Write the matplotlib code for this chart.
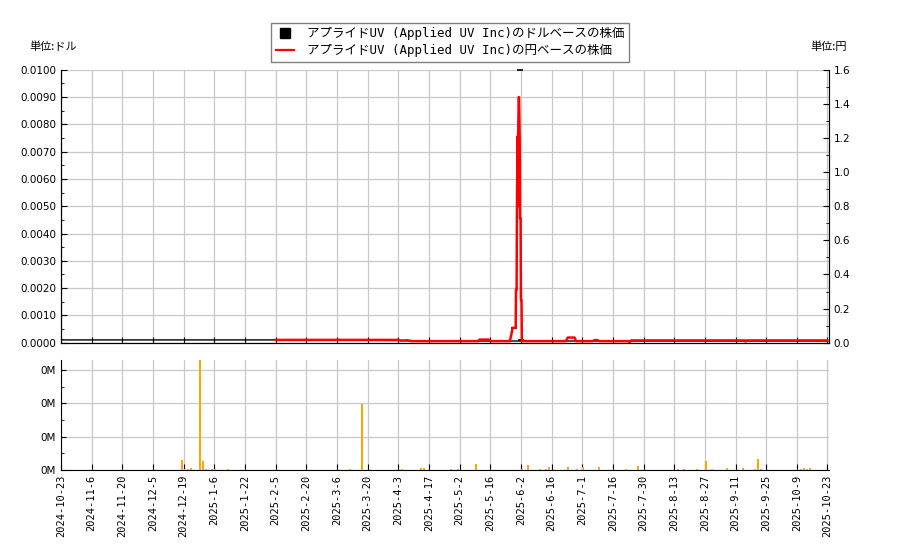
import matplotlib
matplotlib.use("Agg")
import matplotlib.pyplot as plt
from matplotlib.lines import Line2D
from matplotlib.ticker import MultipleLocator, FuncFormatter

plt.rcParams['font.family'] = ['DejaVu Sans', 'Noto Sans CJK JP']

# x axis is the trading-day index, labelled every 10 sessions
tick_pos = list(range(0, 251, 10))
tick_labels = ["2024-10-23", "2024-11-6", "2024-11-20", "2024-12-5", "2024-12-19",
               "2025-1-6", "2025-1-22", "2025-2-5", "2025-2-20", "2025-3-6",
               "2025-3-20", "2025-4-3", "2025-4-17", "2025-5-2", "2025-5-16",
               "2025-6-2", "2025-6-16", "2025-7-1", "2025-7-16", "2025-7-30",
               "2025-8-13", "2025-8-27", "2025-9-11", "2025-9-25", "2025-10-9",
               "2025-10-23"]

# dollar price (black), mostly hidden under the yen line
usd_x = [0, 70, 110, 115, 250]
usd_vals = [0.00010, 0.00010, 0.00008, 0.00006, 0.00006]
# short black marks visible around the spike
mark_x = [147.9, 149.6, 149.9]
mark_y = [0.00055, 0.0100, 0.0001]

# yen price (red)
yen_x = [70, 110, 111, 113, 114, 115, 136, 136.5, 139.5, 140, 146.4, 146.9, 147.3,
         148.3, 148.4, 148.6, 148.7, 148.9, 149.0, 149.1, 149.3, 149.4, 149.6,
         149.7, 149.9, 150.0, 150.2, 150.3, 164.7, 165.3, 167.5, 168, 173.5, 174,
         175, 175.5, 185, 185.5, 186, 223, 223.3, 223.6, 250]
yen_vals = [0.016, 0.016, 0.012, 0.014, 0.010, 0.009, 0.009, 0.018, 0.018, 0.009,
            0.009, 0.05, 0.087, 0.087, 0.31, 0.31, 0.76, 1.21, 0.80, 1.21, 1.44,
            1.44, 1.20, 0.73, 0.73, 0.25, 0.25, 0.009, 0.009, 0.030, 0.030, 0.009,
            0.009, 0.015, 0.015, 0.009, 0.009, 0.003, 0.013, 0.013, 0.006, 0.013,
            0.013]

# volume (shares)
vol_idx = [39, 40, 41, 42, 45, 46, 47, 49, 50, 54, 94, 98, 111, 117, 118, 127, 129,
           135, 150, 152, 156, 158, 159, 165, 168, 170, 175, 184, 188, 201, 203,
           207, 210, 212, 217, 222, 226, 227, 228, 241, 242, 243, 244]
vol_vals = [30000, 3000, 3000, 6000, 350000, 27000, 4000, 4000, 4000, 4000, 3000,
            197000, 3000, 6000, 6000, 3000, 3000, 18000, 3000, 15000, 3000, 3000,
            9000, 9000, 3000, 9000, 9000, 3000, 12000, 3000, 3000, 3000, 27000,
            3000, 6000, 6000, 3000, 33000, 3000, 3000, 6000, 3000, 6000]

fig = plt.figure(figsize=(9, 5.5), dpi=100)
ax = fig.add_axes([0.0678, 0.377, 0.853, 0.496])
ax2 = ax.twinx()
axv = fig.add_axes([0.0678, 0.1455, 0.853, 0.2])

grid_c = '#c8c8c8'
xmax = 250.4

# price panel
ax.plot(usd_x, usd_vals, color='black', lw=1, zorder=2)
ax.plot(mark_x, mark_y, linestyle='None', marker='_', color='black',
        markersize=5, markeredgewidth=1.2, clip_on=False, zorder=5)
ax2.plot(yen_x, yen_vals, color='red', lw=1.8, zorder=3)
ax.set_xlim(0, xmax)
ax.set_ylim(0, 0.01)
ax2.set_ylim(0, 1.6)
ax.yaxis.set_major_locator(MultipleLocator(0.001))
ax.yaxis.set_minor_locator(MultipleLocator(0.0005))
ax.yaxis.set_major_formatter(FuncFormatter(lambda v, p: f"{v:.4f}"))
ax2.yaxis.set_major_locator(MultipleLocator(0.2))
ax2.yaxis.set_minor_locator(MultipleLocator(0.1))
ax2.yaxis.set_major_formatter(FuncFormatter(lambda v, p: f"{v:.1f}"))
ax.set_xticks(tick_pos)
ax.set_xticklabels([])
ax.grid(True, color=grid_c, lw=0.9)
ax.set_axisbelow(True)
for a in (ax, ax2):
    a.spines['top'].set_visible(False)
    a.tick_params(direction='in', which='both', labelsize=7.5)
ax.tick_params(which='major', length=4)
ax2.tick_params(which='major', length=4)

# volume panel
axv.bar(vol_idx, vol_vals, width=0.65, align='edge', color='orange', zorder=3)
axv.set_xlim(0, xmax)
axv.set_ylim(0, 330000)
axv.yaxis.set_major_locator(MultipleLocator(100000))
axv.yaxis.set_minor_locator(MultipleLocator(50000))
axv.yaxis.set_major_formatter(FuncFormatter(lambda v, p: f"{v / 1e6:.0f}M"))
axv.set_xticks(tick_pos)
axv.set_xticklabels(tick_labels, rotation=90, family='DejaVu Sans Mono', fontsize=7.5)
axv.grid(True, color=grid_c, lw=0.9)
axv.set_axisbelow(True)
axv.spines['top'].set_visible(False)
axv.spines['right'].set_visible(False)
axv.tick_params(direction='in', which='both', labelsize=7.5)
axv.tick_params(axis='x', length=4)

fig.text(0.033, 0.909, "単位:ドル", fontsize=8, family=['Noto Sans CJK JP', 'DejaVu Sans'])
fig.text(0.900, 0.909, "単位:円", fontsize=8, family=['Noto Sans CJK JP', 'DejaVu Sans'])

handles = [Line2D([], [], color='black', marker='s', linestyle='None', markersize=7),
           Line2D([], [], color='red', lw=1.6)]
labels = ["アプライドUV (Applied UV Inc)のドルベースの株価",
          "アプライドUV (Applied UV Inc)の円ベースの株価"]
fig.legend(handles, labels, loc='upper center', bbox_to_anchor=(0.5, 0.97),
           fancybox=False, edgecolor='#808080', framealpha=1, borderpad=0.35,
           labelspacing=0.3, handlelength=1.5, handletextpad=1.0,
           prop={'family': ['DejaVu Sans Mono', 'Noto Sans CJK JP'], 'size': 9})

fig.savefig("out.png", dpi=100)
